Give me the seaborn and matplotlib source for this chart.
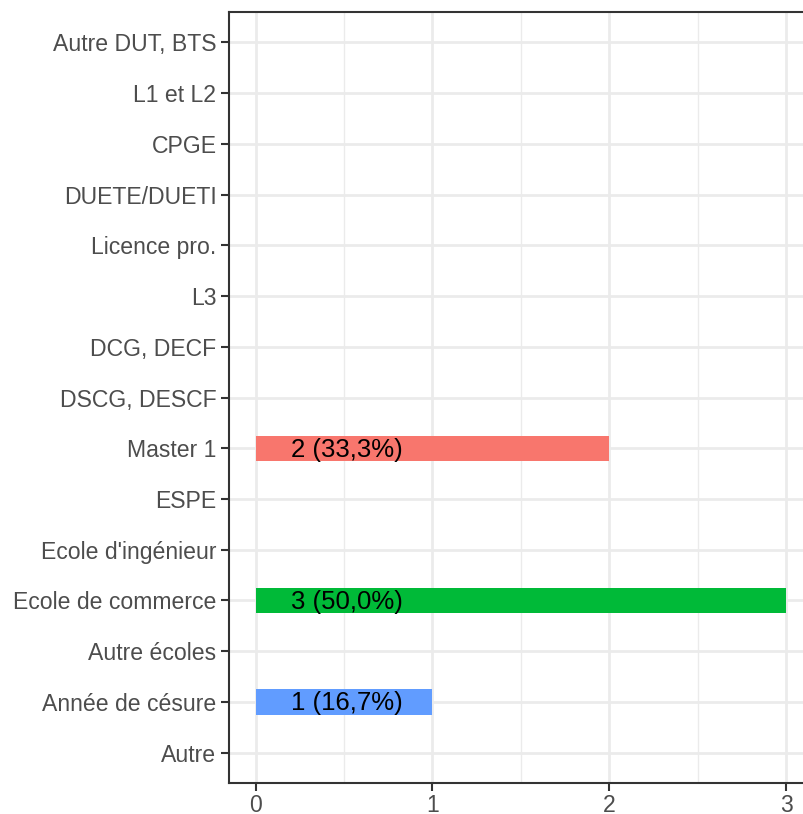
import matplotlib
matplotlib.use("Agg")
import matplotlib.pyplot as plt
import seaborn as sns
import pandas as pd
from matplotlib.ticker import MultipleLocator

categories = ["Autre DUT, BTS", "L1 et L2", "CPGE", "DUETE/DUETI", "Licence pro.",
              "L3", "DCG, DECF", "DSCG, DESCF", "Master 1", "ESPE",
              "Ecole d'ingénieur", "Ecole de commerce", "Autre écoles",
              "Année de césure", "Autre"]
counts = [0, 0, 0, 0, 0, 0, 0, 0, 2, 0, 0, 3, 0, 1, 0]
labels = ["", "", "", "", "", "", "", "", "2 (33,3%)", "", "", "3 (50,0%)", "", "1 (16,7%)", ""]
bar_colors = {"Master 1": "#F8766D", "Ecole de commerce": "#00BA38", "Année de césure": "#619CFF"}

df = pd.DataFrame({"cat": categories, "n": counts, "lab": labels})
palette = {c: bar_colors.get(c, "#999999") for c in categories}

sns.set_style("white")
plt.rcParams["font.family"] = ["Liberation Sans", "DejaVu Sans"]

fig = plt.figure(figsize=(8.04, 8.14), dpi=100)
ax = fig.add_axes([229/804, 1-783/814, (812.6-229)/804, (783-12)/814])

sns.barplot(data=df, y="cat", x="n", hue="cat", palette=palette, order=categories,
            hue_order=categories, orient="h", width=0.5, legend=False, ax=ax,
            saturation=1, edgecolor="none", linewidth=0)

for i, (n, lab) in enumerate(zip(counts, labels)):
    if lab:
        ax.text(0.2, i + 0.03, lab, ha="left", va="center", fontsize=18.5, color="black")

ax.set_xlim(-0.15, 3.15)
ax.set_ylim(len(categories) - 1 + 0.6, -0.6)
ax.xaxis.set_major_locator(MultipleLocator(1))
ax.xaxis.set_minor_locator(MultipleLocator(0.5))
ax.set_axisbelow(True)
ax.grid(True, which="major", axis="both", color="#EBEBEB", linewidth=2)
ax.grid(True, which="minor", axis="x", color="#EBEBEB", linewidth=1)
ax.set_xlabel("")
ax.set_ylabel("")
for s in ax.spines.values():
    s.set_color("#333333")
    s.set_linewidth(1.5)
ax.tick_params(axis="both", which="major", length=6, width=1.5, color="#333333",
               labelsize=16.6, labelcolor="#4D4D4D", pad=3, bottom=True, left=True)
ax.tick_params(axis="x", which="major", pad=2)
ax.tick_params(axis="x", which="minor", length=0)

fig.savefig("out.png", dpi=100)
